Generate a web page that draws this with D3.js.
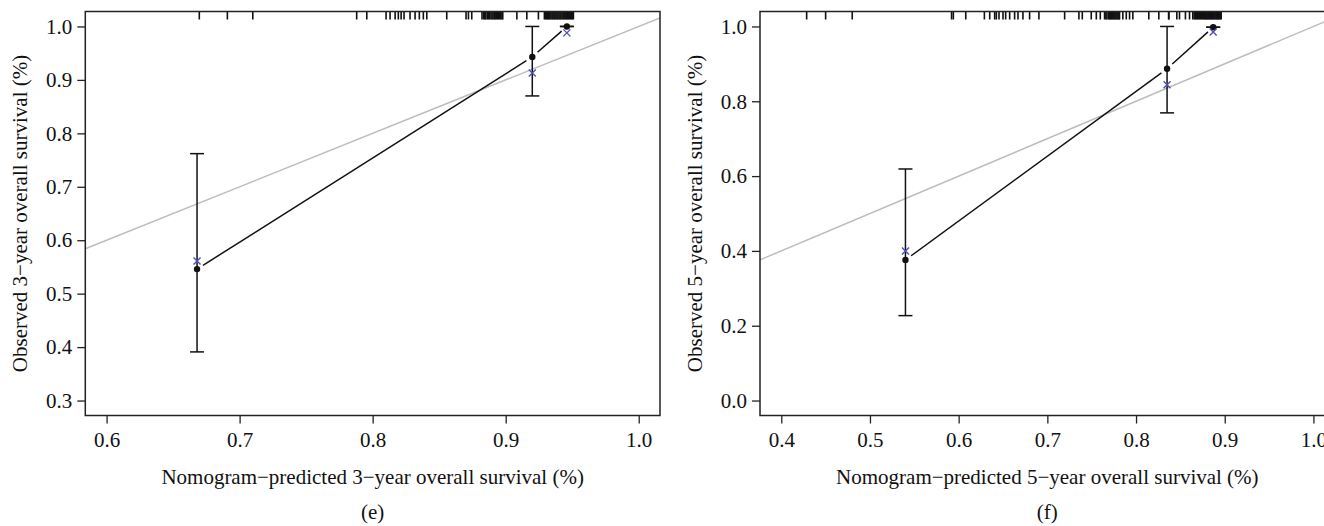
<!DOCTYPE html>
<html>
<head>
<meta charset="utf-8">
<script src="https://cdn.jsdelivr.net/npm/d3@7"></script>
<style>
  body { margin: 0; background: #fff; }
  svg { display: block; }
  text { font-family: "Liberation Serif", "DejaVu Serif", serif; fill: #111; }
</style>
</head>
<body>
<div id="chart"></div>
<script>
// panel (e): 3-year
const xTicks3 = [0.6, 0.7, 0.8, 0.9, 1.0]
const yTicks3 = [0.3, 0.4, 0.5, 0.6, 0.7, 0.8, 0.9, 1.0]
const pred3 = [0.668, 0.920, 0.946]
const obs3 = [0.546, 0.943, 1.0]
const lower3 = [0.391, 0.870, 1.0]
const upper3 = [0.762, 1.0, 1.0]
const corrected3 = [0.561, 0.913, 0.988]
const rug3 = [
  0.6697, 0.6908, 0.7099, 0.788, 0.7956, 0.8101, 0.8131, 0.8169, 0.8193,
  0.8214, 0.8236, 0.8281, 0.8319, 0.8351, 0.8381, 0.8407, 0.8557, 0.8702,
  0.872, 0.8745, 0.8822, 0.8835, 0.8843, 0.8851, 0.8862, 0.887, 0.8878,
  0.8889, 0.8897, 0.8905, 0.8914, 0.8921, 0.893, 0.8938, 0.8946, 0.8955,
  0.8963, 0.8972, 0.8978, 0.9084, 0.9159, 0.9246, 0.9291, 0.93, 0.9309,
  0.9316, 0.9324, 0.9331, 0.934, 0.9348, 0.9355, 0.9363, 0.937, 0.9378,
  0.9386, 0.9393, 0.9401, 0.9409, 0.9416, 0.9424, 0.9432, 0.944, 0.9447,
  0.9455, 0.9463, 0.947, 0.9478, 0.9486, 0.9494, 0.9501, 0.9509
]

// panel (f): 5-year
const xTicks5 = [0.4, 0.5, 0.6, 0.7, 0.8, 0.9, 1.0]
const yTicks5 = [0.0, 0.2, 0.4, 0.6, 0.8, 1.0]
const pred5 = [0.540, 0.835, 0.887]
const obs5 = [0.376, 0.887, 0.998]
const lower5 = [0.227, 0.769, 0.998]
const upper5 = [0.619, 1.0, 0.998]
const corrected5 = [0.400, 0.844, 0.985]
const rug5 = [
  0.4286, 0.45, 0.48, 0.592, 0.594, 0.608, 0.629, 0.635, 0.6406, 0.6425,
  0.6455, 0.65, 0.653, 0.6575, 0.6631, 0.6669, 0.6725, 0.68, 0.6905, 0.7195,
  0.7356, 0.7394, 0.7495, 0.7552, 0.7597, 0.7645, 0.766, 0.7672, 0.769,
  0.77, 0.771, 0.772, 0.7731, 0.7742, 0.7753, 0.7764, 0.7775, 0.7786,
  0.7797, 0.7808, 0.7814, 0.7851, 0.789, 0.7927, 0.7964, 0.8144, 0.8257,
  0.8367, 0.8371, 0.846, 0.849, 0.8557, 0.8603, 0.864, 0.8655, 0.8668,
  0.868, 0.8692, 0.8703, 0.8715, 0.8726, 0.8738, 0.875, 0.8761, 0.8772,
  0.8784, 0.879, 0.88, 0.881, 0.882, 0.883, 0.884, 0.885, 0.886, 0.887,
  0.888, 0.889, 0.89, 0.891, 0.892, 0.893, 0.894, 0.895, 0.896
]

const width = 1324
const height = 526
const plotTop = 11.5
const plotBottom = 415.5
const fontSize = 21

const svg = d3
  .select('#chart')
  .append('svg')
  .attr('width', width)
  .attr('height', height)
  .attr('viewBox', [0, 0, width, height])

svg.append('rect').attr('width', width).attr('height', height).attr('fill', '#fff')

function drawPanel(p) {
  const x = d3.scaleLinear().domain(p.xDomain).range([p.left, p.right])
  const y = d3.scaleLinear().domain(p.yDomain).range([plotBottom, plotTop])
  const g = svg.append('g')

  g.append('clipPath')
    .attr('id', p.id + '-clip')
    .append('rect')
    .attr('x', p.left)
    .attr('y', plotTop)
    .attr('width', p.right - p.left)
    .attr('height', plotBottom - plotTop)

  // ideal line
  g.append('line')
    .attr('clip-path', `url(#${p.id}-clip)`)
    .attr('x1', x(p.xDomain[0]))
    .attr('y1', y(p.xDomain[0]))
    .attr('x2', x(p.xDomain[1]))
    .attr('y2', y(p.xDomain[1]))
    .attr('stroke', '#bdbdbd')
    .attr('stroke-width', 1.5)

  // axes
  const xAxis = g
    .append('g')
    .attr('transform', `translate(0,${plotBottom})`)
    .call(d3.axisBottom(x).tickValues(p.xTicks).tickFormat(d3.format('.1f')).tickSize(8).tickPadding(9))
  const yAxis = g
    .append('g')
    .attr('transform', `translate(${p.left},0)`)
    .call(d3.axisLeft(y).tickValues(p.yTicks).tickFormat(d3.format('.1f')).tickSize(8).tickPadding(5))
  ;[xAxis, yAxis].forEach((a) => {
    a.select('.domain').remove()
    a.selectAll('.tick line').attr('stroke', '#222').attr('stroke-width', 1.3)
    a.selectAll('.tick text')
      .attr('font-family', '"Liberation Serif", serif')
      .attr('font-size', fontSize)
      .attr('fill', '#111')
  })

  // rug along the top
  g.append('g')
    .attr('clip-path', `url(#${p.id}-clip)`)
    .selectAll('line')
    .data(p.rug)
    .join('line')
    .attr('x1', (d) => x(d))
    .attr('x2', (d) => x(d))
    .attr('y1', plotTop)
    .attr('y2', plotTop + 8)
    .attr('stroke', '#111')
    .attr('stroke-width', 1.6)

  // error bars
  const bars = g.append('g').attr('stroke', '#111').attr('stroke-width', 1.5)
  p.pred.forEach((v, i) => {
    const cx = x(v)
    bars.append('line').attr('x1', cx).attr('x2', cx).attr('y1', y(p.lower[i])).attr('y2', y(p.upper[i]))
    bars.append('line').attr('x1', cx - 7).attr('x2', cx + 7).attr('y1', y(p.lower[i])).attr('y2', y(p.lower[i]))
    bars.append('line').attr('x1', cx - 7).attr('x2', cx + 7).attr('y1', y(p.upper[i])).attr('y2', y(p.upper[i]))
  })

  // connecting line with gaps around the points (type = "b")
  const gap = 7
  for (let i = 0; i < p.pred.length - 1; i++) {
    const x0 = x(p.pred[i]), y0 = y(p.obs[i])
    const x1 = x(p.pred[i + 1]), y1 = y(p.obs[i + 1])
    const len = Math.hypot(x1 - x0, y1 - y0)
    const ux = (x1 - x0) / len, uy = (y1 - y0) / len
    g.append('line')
      .attr('x1', x0 + ux * gap)
      .attr('y1', y0 + uy * gap)
      .attr('x2', x1 - ux * gap)
      .attr('y2', y1 - uy * gap)
      .attr('stroke', '#111')
      .attr('stroke-width', 1.5)
  }

  g.append('g')
    .selectAll('circle')
    .data(p.pred)
    .join('circle')
    .attr('cx', (d) => x(d))
    .attr('cy', (d, i) => y(p.obs[i]))
    .attr('r', 3.2)
    .attr('fill', '#111')

  // bias-corrected marks
  const s = 3.5
  g.append('g')
    .selectAll('path')
    .data(p.pred)
    .join('path')
    .attr('d', (d, i) => {
      const cx = x(d), cy = y(p.corrected[i])
      return `M${cx - s},${cy - s}L${cx + s},${cy + s}M${cx - s},${cy + s}L${cx + s},${cy - s}`
    })
    .attr('stroke', '#4f4fb8')
    .attr('stroke-width', 1.4)
    .attr('fill', 'none')

  // box
  g.append('rect')
    .attr('x', p.left)
    .attr('y', plotTop)
    .attr('width', p.right - p.left)
    .attr('height', plotBottom - plotTop)
    .attr('fill', 'none')
    .attr('stroke', '#222')
    .attr('stroke-width', 1.5)

  const cx = (p.left + p.right) / 2
  g.append('text')
    .attr('x', cx)
    .attr('y', 484)
    .attr('text-anchor', 'middle')
    .attr('font-size', fontSize)
    .text(p.xLabel)
  g.append('text')
    .attr('transform', `translate(${p.left - 58},${(plotTop + plotBottom) / 2}) rotate(-90)`)
    .attr('text-anchor', 'middle')
    .attr('font-size', fontSize)
    .text(p.yLabel)
  g.append('text')
    .attr('x', cx)
    .attr('y', 519)
    .attr('text-anchor', 'middle')
    .attr('font-size', fontSize)
    .text(p.tag)
}

drawPanel({
  id: 'e',
  left: 85.3,
  right: 660,
  xDomain: [0.584, 1.016],
  yDomain: [0.272, 1.028],
  xTicks: xTicks3,
  yTicks: yTicks3,
  pred: pred3,
  obs: obs3,
  lower: lower3,
  upper: upper3,
  corrected: corrected3,
  rug: rug3,
  xLabel: 'Nomogram\u2212predicted 3\u2212year overall survival (%)',
  yLabel: 'Observed 3\u2212year overall survival (%)',
  tag: '(e)'
})

drawPanel({
  id: 'f',
  left: 760,
  right: 1334.7,
  xDomain: [0.376, 1.024],
  yDomain: [-0.04, 1.04],
  xTicks: xTicks5,
  yTicks: yTicks5,
  pred: pred5,
  obs: obs5,
  lower: lower5,
  upper: upper5,
  corrected: corrected5,
  rug: rug5,
  xLabel: 'Nomogram\u2212predicted 5\u2212year overall survival (%)',
  yLabel: 'Observed 5\u2212year overall survival (%)',
  tag: '(f)'
})
</script>
</body>
</html>
